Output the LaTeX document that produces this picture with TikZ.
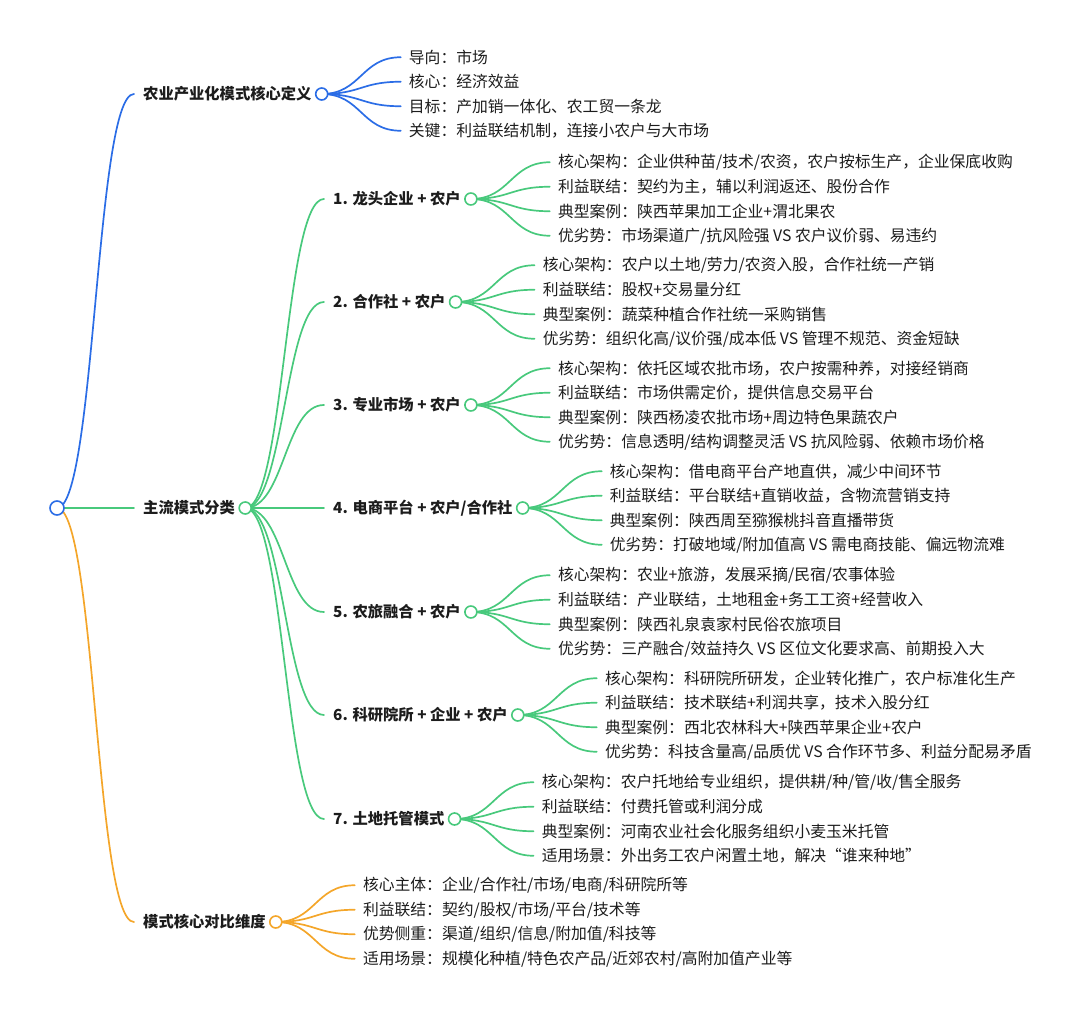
\documentclass[tikz,border=0pt]{standalone}
\usepackage{fontspec}
\setmainfont{Noto Sans CJK SC}
\usepackage{xcolor}
\usetikzlibrary{calc,positioning,backgrounds}
\definecolor{mapBlue}{HTML}{2B6DE6}
\definecolor{mapGreen}{HTML}{48C97C}
\definecolor{mapOrange}{HTML}{F4A62A}
\definecolor{mapText}{HTML}{1C1C1C}

\begin{document}
\begin{tikzpicture}[
  x=1pt, y=-1pt,
  every node/.style={font=\fontsize{15.8}{19}\selectfont, text=mapText},
  topic/.style={anchor=west, inner xsep=9pt, inner ysep=0pt, font=\fontsize{15.3}{19}\selectfont\bfseries},
  leaf/.style={anchor=west, inner xsep=8pt, inner ysep=0pt},
  hub/.style={circle, draw, fill=white, line width=1.6pt, minimum size=12pt, inner sep=0pt},
  branch/.style={line width=1.7pt, line cap=round,
    to path={let \p1=(\tikztostart), \p2=(\tikztotarget) in
      .. controls ({0.5*(\x1+\x2)},\y1) and ({0.5*(\x1+\x2)},\y2) .. (\tikztotarget)}}
]
\useasboundingbox (0,0) rectangle (1080,1016);

% Root
\node[hub, draw=mapBlue, minimum size=14pt] (root) at (57,508) {};

% Core definition
\node[topic] (core) at (134,94) {农业产业化模式核心定义};
\node[hub, draw=mapBlue] (corec) at ([xshift=1pt]core.east) {};
\begin{scope}[on background layer]
  \draw[branch, mapBlue] (root.center) to (core.west);
\end{scope}
\foreach \dy/\t [count=\i] in {-36.75/{导向：市场}, -12.25/{核心：经济效益},
    12.25/{目标：产加销一体化、农工贸一条龙}, 36.75/{关键：利益联结机制，连接小农户与大市场}} {
  \node[leaf] (c\i) at ($(corec)+(79,\dy)$) {\t};
  \begin{scope}[on background layer]
    \draw[branch, mapBlue] (corec.center) to (c\i.west);
  \end{scope}
}

% Main models
\node[topic] (main) at (134,508) {主流模式分类};
\node[hub, draw=mapGreen] (mainc) at ([xshift=1pt]main.east) {};
\begin{scope}[on background layer]
  \draw[branch, mapGreen] (root.center) to (main.west);
\end{scope}
\foreach \y/\t [count=\k] in {199/{1. 龙头企业 + 农户}, 302/{2. 合作社 + 农户},
    405/{3. 专业市场 + 农户}, 508/{4. 电商平台 + 农户/合作社}, 612/{5. 农旅融合 + 农户},
    715/{6. 科研院所 + 企业 + 农户}, 819/{7. 土地托管模式}} {
  \node[topic] (m\k) at (324,\y) {\t};
  \node[hub, draw=mapGreen] (mc\k) at ([xshift=1pt]m\k.east) {};
  \begin{scope}[on background layer]
    \draw[branch, mapGreen] (mainc.center) to (m\k.west);
  \end{scope}
}

% 1
\foreach \dy/\t [count=\i] in {-36.75/{核心架构：企业供种苗/技术/农资，农户按标生产，企业保底收购},
    -12.25/{利益联结：契约为主，辅以利润返还、股份合作},
    12.25/{典型案例：陕西苹果加工企业+渭北果农},
    36.75/{优劣势：市场渠道广/抗风险强 VS 农户议价弱、易违约}} {
  \node[leaf] (l1\i) at ($(mc1)+(79,\dy)$) {\t};
  \begin{scope}[on background layer]
    \draw[branch, mapGreen] (mc1.center) to (l1\i.west);
  \end{scope}
}

% 2
\foreach \dy/\t [count=\i] in {-36.75/{核心架构：农户以土地/劳力/农资入股，合作社统一产销},
    -12.25/{利益联结：股权+交易量分红},
    12.25/{典型案例：蔬菜种植合作社统一采购销售},
    36.75/{优劣势：组织化高/议价强/成本低 VS 管理不规范、资金短缺}} {
  \node[leaf] (l2\i) at ($(mc2)+(79,\dy)$) {\t};
  \begin{scope}[on background layer]
    \draw[branch, mapGreen] (mc2.center) to (l2\i.west);
  \end{scope}
}

% 3
\foreach \dy/\t [count=\i] in {-36.75/{核心架构：依托区域农批市场，农户按需种养，对接经销商},
    -12.25/{利益联结：市场供需定价，提供信息交易平台},
    12.25/{典型案例：陕西杨凌农批市场+周边特色果蔬农户},
    36.75/{优劣势：信息透明/结构调整灵活 VS 抗风险弱、依赖市场价格}} {
  \node[leaf] (l3\i) at ($(mc3)+(79,\dy)$) {\t};
  \begin{scope}[on background layer]
    \draw[branch, mapGreen] (mc3.center) to (l3\i.west);
  \end{scope}
}

% 4
\foreach \dy/\t [count=\i] in {-36.75/{核心架构：借电商平台产地直供，减少中间环节},
    -12.25/{利益联结：平台联结+直销收益，含物流营销支持},
    12.25/{典型案例：陕西周至猕猴桃抖音直播带货},
    36.75/{优劣势：打破地域/附加值高 VS 需电商技能、偏远物流难}} {
  \node[leaf] (l4\i) at ($(mc4)+(79,\dy)$) {\t};
  \begin{scope}[on background layer]
    \draw[branch, mapGreen] (mc4.center) to (l4\i.west);
  \end{scope}
}

% 5
\foreach \dy/\t [count=\i] in {-36.75/{核心架构：农业+旅游，发展采摘/民宿/农事体验},
    -12.25/{利益联结：产业联结，土地租金+务工工资+经营收入},
    12.25/{典型案例：陕西礼泉袁家村民俗农旅项目},
    36.75/{优劣势：三产融合/效益持久 VS 区位文化要求高、前期投入大}} {
  \node[leaf] (l5\i) at ($(mc5)+(79,\dy)$) {\t};
  \begin{scope}[on background layer]
    \draw[branch, mapGreen] (mc5.center) to (l5\i.west);
  \end{scope}
}

% 6
\foreach \dy/\t [count=\i] in {-36.75/{核心架构：科研院所研发，企业转化推广，农户标准化生产},
    -12.25/{利益联结：技术联结+利润共享，技术入股分红},
    12.25/{典型案例：西北农林科大+陕西苹果企业+农户},
    36.75/{优劣势：科技含量高/品质优 VS 合作环节多、利益分配易矛盾}} {
  \node[leaf] (l6\i) at ($(mc6)+(79,\dy)$) {\t};
  \begin{scope}[on background layer]
    \draw[branch, mapGreen] (mc6.center) to (l6\i.west);
  \end{scope}
}

% 7
\foreach \dy/\t [count=\i] in {-36.75/{核心架构：农户托地给专业组织，提供耕/种/管/收/售全服务},
    -12.25/{利益联结：付费托管或利润分成},
    12.25/{典型案例：河南农业社会化服务组织小麦玉米托管},
    36.75/{适用场景：外出务工农户闲置土地，解决“谁来种地”}} {
  \node[leaf] (l7\i) at ($(mc7)+(79,\dy)$) {\t};
  \begin{scope}[on background layer]
    \draw[branch, mapGreen] (mc7.center) to (l7\i.west);
  \end{scope}
}

% Comparison
\node[topic] (cmp) at (134,922) {模式核心对比维度};
\node[hub, draw=mapOrange] (cmpc) at ([xshift=1pt]cmp.east) {};
\begin{scope}[on background layer]
  \draw[branch, mapOrange] (root.center) to (cmp.west);
\end{scope}
\foreach \dy/\t [count=\i] in {-36.75/{核心主体：企业/合作社/市场/电商/科研院所等},
    -12.25/{利益联结：契约/股权/市场/平台/技术等},
    12.25/{优势侧重：渠道/组织/信息/附加值/科技等},
    36.75/{适用场景：规模化种植/特色农产品/近郊农村/高附加值产业等}} {
  \node[leaf] (d\i) at ($(cmpc)+(79,\dy)$) {\t};
  \begin{scope}[on background layer]
    \draw[branch, mapOrange] (cmpc.center) to (d\i.west);
  \end{scope}
}
\end{tikzpicture}
\end{document}
